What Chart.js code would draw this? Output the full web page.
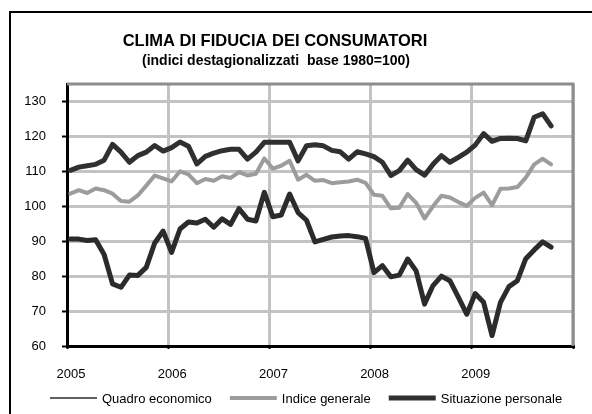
<!DOCTYPE html>
<html lang="it">
<head>
<meta charset="utf-8">
<title>Clima di fiducia dei consumatori</title>
<script src="https://cdn.jsdelivr.net/npm/chart.js@4.4.1/dist/chart.umd.min.js"></script>
<style>
  html, body { margin: 0; padding: 0; background: #fff; }
  #grafico { display: block; }
</style>
</head>
<body>
<canvas id="grafico" width="592" height="414"></canvas>
<script>
// dati mensili gen 2005 - ott 2009 (indici destagionalizzati, base 1980=100)
const anni = ['2005', '2006', '2007', '2008', '2009'];
const valoriY = [60, 70, 80, 90, 100, 110, 120, 130];

const quadroEconomico = [
  90.6, 90.6, 90.2, 90.4, 86.2, 77.8, 76.8, 80.3, 80.2, 82.5, 89.5, 92.9,
  86.8, 93.5, 95.5, 95.2, 96.3, 94.0, 96.4, 94.8, 99.3, 96.3, 95.8, 104.0,
  97.0, 97.5, 103.5, 98.2, 96.0, 89.8, 90.5, 91.2, 91.5, 91.6, 91.3, 90.8,
  81.0, 83.0, 79.8, 80.3, 84.9, 81.5, 72.0, 77.3, 80.0, 78.7, 74.0, 69.1,
  75.0, 72.5, 63.0, 72.5, 77.0, 78.7, 85.0, 87.5, 89.8, 88.3
];
const indiceGenerale = [
  103.6, 104.6, 103.8, 105.1, 104.6, 103.6, 101.5, 101.3, 103.1, 105.9, 108.8, 108.0,
  107.1, 110.0, 109.1, 106.6, 107.8, 107.3, 108.6, 108.1, 109.8, 108.8, 109.3, 113.7,
  110.8, 111.6, 113.0, 107.6, 109.0, 107.3, 107.5, 106.6, 106.9, 107.1, 107.6, 106.7,
  103.3, 103.0, 99.4, 99.6, 103.5, 101.0, 96.5, 100.0, 103.0, 102.5, 101.2, 100.1,
  102.4, 103.9, 100.3, 105.0, 105.1, 105.5, 108.2, 112.0, 113.6, 112.0
];
const situazionePersonale = [
  110.3, 111.2, 111.6, 112.0, 113.2, 117.7, 115.5, 112.6, 114.5, 115.5, 117.4, 115.8,
  116.8, 118.4, 117.2, 112.1, 114.3, 115.2, 115.9, 116.3, 116.3, 113.5, 115.5, 118.3,
  118.3, 118.3, 118.3, 113.0, 117.3, 117.6, 117.3, 116.0, 115.6, 113.5, 115.6, 115.0,
  114.2, 112.6, 108.8, 110.2, 113.2, 110.5, 108.9, 112.0, 114.5, 112.6, 114.0, 115.5,
  117.5, 120.8, 118.6, 119.4, 119.5, 119.4, 118.7, 125.5, 126.5, 123.0
];

const FONT = '"Liberation Sans", Arial, sans-serif';

// i valori mensili cadono a metà mese
function punti(serie) {
  return serie.map((v, i) => ({ x: i + 0.4, y: v }));
}

// cornice, titolo e legenda disegnati a mano come nel grafico Excel
const decorazioni = {
  id: 'decorazioni',
  beforeDraw(chart) {
    const ctx = chart.ctx;
    ctx.save();
    ctx.fillStyle = '#fff';
    ctx.fillRect(0, 0, chart.width, chart.height);
    ctx.strokeStyle = '#000';
    ctx.lineWidth = 2;
    ctx.strokeRect(10, 12, chart.width + 10, chart.height + 10);
    ctx.restore();
  },
  beforeDatasetsDraw(chart) {
    const { ctx, chartArea: a } = chart;
    ctx.save();
    ctx.strokeStyle = '#8c8c8c';
    ctx.lineWidth = 3;
    ctx.beginPath();
    ctx.moveTo(a.left, a.top);
    ctx.lineTo(a.right, a.top);
    ctx.lineTo(a.right, a.bottom);
    ctx.stroke();
    ctx.restore();
  },
  afterDraw(chart, args, opts) {
    const ctx = chart.ctx;
    ctx.save();
    ctx.fillStyle = '#000';
    ctx.textAlign = 'center';
    ctx.textBaseline = 'middle';
    ctx.font = 'bold 16.5px ' + FONT;
    ctx.fillText('CLIMA DI FIDUCIA DEI CONSUMATORI', 275, 41);
    ctx.font = 'bold 14px ' + FONT;
    ctx.fillText('(indici destagionalizzati  base 1980=100)', 276, 61);

    // legenda
    ctx.font = '13px ' + FONT;
    ctx.textAlign = 'left';
    let x = 50;
    const y = 398;
    chart.data.datasets.forEach((ds, i) => {
      ctx.strokeStyle = ds.borderColor;
      ctx.lineWidth = opts.spessori[i];
      ctx.beginPath();
      ctx.moveTo(x, y);
      ctx.lineTo(x + 47, y);
      ctx.stroke();
      ctx.fillText(ds.label, x + 52, y + 1);
      x += 52 + ctx.measureText(ds.label).width + 18;
    });
    ctx.restore();
  }
};

new Chart(document.getElementById('grafico'), {
  type: 'line',
  data: {
    datasets: [
      {
        label: 'Quadro economico',
        data: punti(quadroEconomico),
        borderColor: '#2b2b2b',
        borderWidth: 5
      },
      {
        label: 'Indice generale',
        data: punti(indiceGenerale),
        borderColor: '#9c9c9c',
        borderWidth: 4
      },
      {
        label: 'Situazione personale',
        data: punti(situazionePersonale),
        borderColor: '#303030',
        borderWidth: 5
      }
    ]
  },
  options: {
    responsive: false,
    animation: false,
    devicePixelRatio: 1,
    elements: {
      point: { radius: 0 },
      line: { tension: 0, borderJoinStyle: 'round', borderCapStyle: 'round' }
    },
    layout: { padding: { top: 84, right: 19, bottom: 0, left: 0 } },
    scales: {
      x: {
        type: 'linear',
        min: 0,
        max: 60,
        afterBuildTicks: s => {
          s.ticks = anni.map((a, k) => ({ value: k * 12 })).concat([{ value: 60 }]);
        },
        afterFit: s => { s.height = 68; },
        ticks: {
          callback: v => anni[v / 12] || '',
          color: '#000',
          font: { family: FONT, size: 13 },
          labelOffset: 4,
          padding: 18,
          maxRotation: 0
        },
        grid: { color: '#c3c3c3', lineWidth: 3, tickColor: '#000', tickLength: 3, tickWidth: 2 },
        border: { color: '#000', width: 3 }
      },
      y: {
        min: 60,
        max: 135,
        afterBuildTicks: s => { s.ticks = valoriY.map(v => ({ value: v })); },
        afterFit: s => { s.width = 67; },
        ticks: {
          color: '#000',
          font: { family: FONT, size: 13 },
          padding: 16
        },
        grid: { color: '#c3c3c3', lineWidth: 3, tickColor: '#000', tickLength: 5, tickWidth: 2 },
        border: { color: '#000', width: 3 }
      }
    },
    plugins: {
      legend: { display: false },
      title: { display: false },
      tooltip: { enabled: false },
      decorazioni: { spessori: [1.5, 4, 5] }
    }
  },
  plugins: [decorazioni]
});
</script>
</body>
</html>
